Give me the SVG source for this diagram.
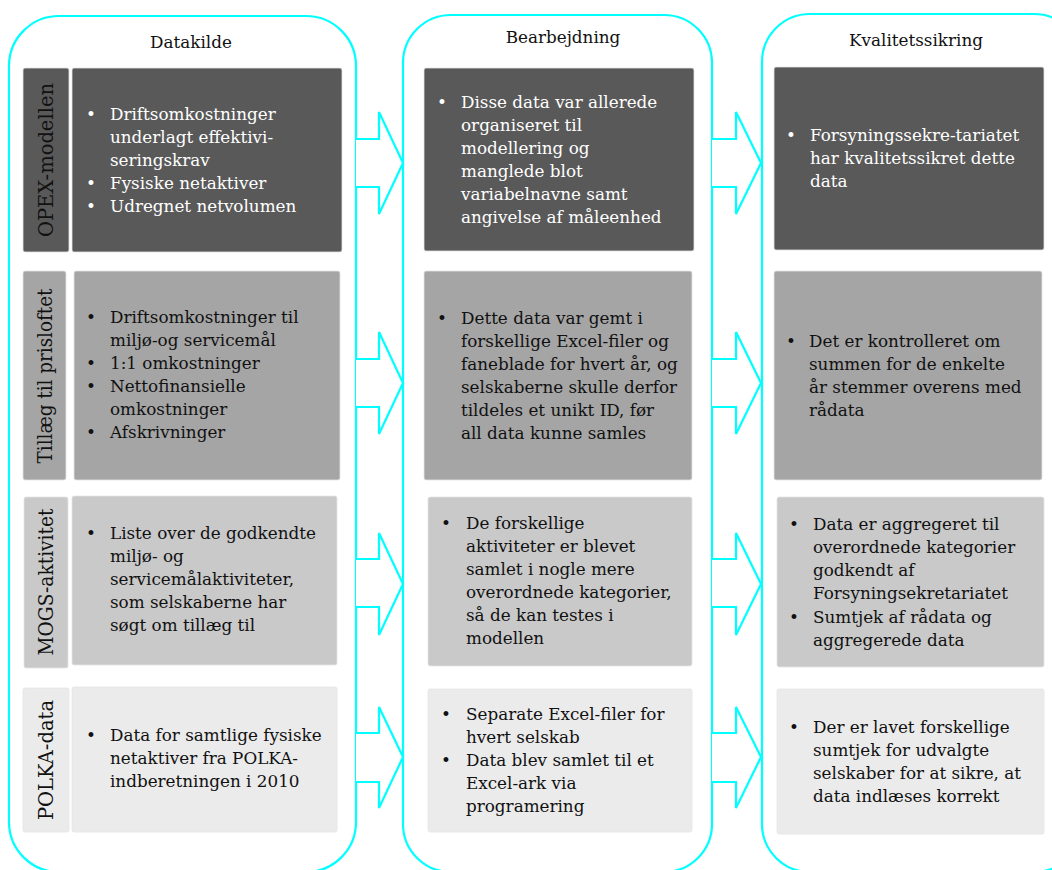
<svg xmlns="http://www.w3.org/2000/svg" width="1052" height="870" viewBox="0 0 1052 870">
<style>
.col{fill:none;stroke:#00FFFF;stroke-width:2.2}
.arr{fill:#fff;stroke:#00FFFF;stroke-width:2.2;stroke-linejoin:miter}
.title{font-family:"DejaVu Serif","Liberation Serif",serif;font-size:16.8px;fill:#111;text-anchor:middle}
.t{font-family:"DejaVu Serif","Liberation Serif",serif;font-size:16.8px;fill:#111}
.w{fill:#fff}
.lab{font-family:"DejaVu Serif","Liberation Serif",serif;font-size:20px;fill:#111;text-anchor:middle}
.r1{fill:#595959}.r2{fill:#A5A5A5}.r3{fill:#C9C9C9}.r4{fill:#EBEBEB}
.bx{stroke:#e4e4e4;stroke-width:0.8}
</style>
<g id="columns">
<rect id="col-datakilde" class="col" x="9" y="16" width="347" height="856" rx="50"/>
<rect id="col-bearbejdning" class="col" x="403" y="15" width="309" height="857" rx="48"/>
<rect id="col-kvalitet" class="col" x="762" y="14" width="320" height="858" rx="48"/>
<text class="title" x="191" y="48">Datakilde</text>
<text class="title" x="563" y="43">Bearbejdning</text>
<text class="title" x="916" y="46">Kvalitetssikring</text>
</g>
<g id="connectors">
<polyline class="arr" points="356,139 379,139 379,112 403,163 379,214 379,187 356,187"/>
<polyline class="arr" points="712,139 736,139 736,112 761,163 736,214 736,187 712,187"/>
<polyline class="arr" points="356,359 379,359 379,332 403,383 379,434 379,407 356,407"/>
<polyline class="arr" points="712,359 736,359 736,332 761,383 736,434 736,407 712,407"/>
<polyline class="arr" points="356,559 379,559 379,533 403,584 379,635 379,607 356,607"/>
<polyline class="arr" points="712,559 736,559 736,533 761,584 736,635 736,607 712,607"/>
<polyline class="arr" points="356,733 379,733 379,707 403,757 379,808 379,782 356,782"/>
<polyline class="arr" points="712,733 736,733 736,707 761,757 736,808 736,782 712,782"/>
</g>
<g id="row1-opex">
<rect class="r1 bx" x="23" y="68" width="46" height="184" rx="2"/>
<text class="lab w" transform="translate(53,160) rotate(-90)" textLength="154" lengthAdjust="spacingAndGlyphs">OPEX-modellen</text>
<rect class="r1 bx" x="72" y="68" width="270" height="184" rx="2"/>
<g class="t w">
<text x="86" y="120">•</text><text x="110" y="120">Driftsomkostninger</text>
<text x="110" y="143">underlagt effektivi-</text>
<text x="110" y="166">seringskrav</text>
<text x="86" y="189">•</text><text x="110" y="189">Fysiske netaktiver</text>
<text x="86" y="212">•</text><text x="110" y="212">Udregnet netvolumen</text>
</g>
<rect class="r1 bx" x="424" y="68" width="270" height="183" rx="2"/>
<g class="t w">
<text x="437" y="108">•</text><text x="461" y="108">Disse data var allerede</text>
<text x="461" y="131">organiseret til</text>
<text x="461" y="154">modellering og</text>
<text x="461" y="177">manglede blot</text>
<text x="461" y="200">variabelnavne samt</text>
<text x="461" y="223">angivelse af måleenhed</text>
</g>
<rect class="r1 bx" x="774" y="67" width="270" height="183" rx="2"/>
<g class="t w">
<text x="786" y="141">•</text><text x="810" y="141">Forsyningssekre-tariatet</text>
<text x="810" y="164">har kvalitetssikret dette</text>
<text x="810" y="187">data</text>
</g>
</g>
<g id="row2-tillaeg">
<rect class="r2 bx" x="23" y="271" width="43" height="209" rx="2"/>
<text class="lab" transform="translate(52,376) rotate(-90)" textLength="175" lengthAdjust="spacingAndGlyphs">Tillæg til prisloftet</text>
<rect class="r2 bx" x="74" y="271" width="266" height="209" rx="2"/>
<g class="t">
<text x="86" y="323">•</text><text x="110" y="323">Driftsomkostninger til</text>
<text x="110" y="346">miljø-og servicemål</text>
<text x="86" y="369">•</text><text x="110" y="369">1:1 omkostninger</text>
<text x="86" y="392">•</text><text x="110" y="392">Nettofinansielle</text>
<text x="110" y="415">omkostninger</text>
<text x="86" y="438">•</text><text x="110" y="438">Afskrivninger</text>
</g>
<rect class="r2 bx" x="424" y="271" width="268" height="209" rx="2"/>
<g class="t">
<text x="437" y="324">•</text><text x="461" y="324">Dette data var gemt i</text>
<text x="461" y="347">forskellige Excel-filer og</text>
<text x="461" y="370">faneblade for hvert år, og</text>
<text x="461" y="393">selskaberne skulle derfor</text>
<text x="461" y="416">tildeles et unikt ID, før</text>
<text x="461" y="439">all data kunne samles</text>
</g>
<rect class="r2 bx" x="774" y="271" width="268" height="209" rx="2"/>
<g class="t">
<text x="786" y="347">•</text><text x="809" y="347">Det er kontrolleret om</text>
<text x="809" y="370">summen for de enkelte</text>
<text x="809" y="393">år stemmer overens med</text>
<text x="809" y="416">rådata</text>
</g>
</g>
<g id="row3-mogs">
<rect class="r3 bx" x="24" y="497" width="44" height="171" rx="2"/>
<text class="lab" transform="translate(53,582) rotate(-90)" textLength="147" lengthAdjust="spacingAndGlyphs">MOGS-aktivitet</text>
<rect class="r3 bx" x="72" y="496" width="265" height="169" rx="2"/>
<g class="t">
<text x="86" y="539">•</text><text x="110" y="539">Liste over de godkendte</text>
<text x="110" y="562">miljø- og</text>
<text x="110" y="585">servicemålaktiviteter,</text>
<text x="110" y="608">som selskaberne har</text>
<text x="110" y="631">søgt om tillæg til</text>
</g>
<rect class="r3 bx" x="428" y="497" width="264" height="169" rx="2"/>
<g class="t">
<text x="441" y="529">•</text><text x="466" y="529">De forskellige</text>
<text x="466" y="552">aktiviteter er blevet</text>
<text x="466" y="575">samlet i nogle mere</text>
<text x="466" y="598">overordnede kategorier,</text>
<text x="466" y="621">så de kan testes i</text>
<text x="466" y="644">modellen</text>
</g>
<rect class="r3 bx" x="777" y="497" width="267" height="170" rx="2"/>
<g class="t">
<text x="789" y="530">•</text><text x="813" y="530">Data er aggregeret til</text>
<text x="813" y="553">overordnede kategorier</text>
<text x="813" y="576">godkendt af</text>
<text x="813" y="599">Forsyningsekretariatet</text>
<text x="789" y="623">•</text><text x="813" y="623">Sumtjek af rådata og</text>
<text x="813" y="646">aggregerede data</text>
</g>
</g>
<g id="row4-polka">
<rect class="r4 bx" x="23" y="688" width="46" height="144" rx="2"/>
<text class="lab" transform="translate(53,760) rotate(-90)" textLength="120" lengthAdjust="spacingAndGlyphs">POLKA-data</text>
<rect class="r4 bx" x="72" y="687" width="265" height="145" rx="2"/>
<g class="t">
<text x="86" y="741">•</text><text x="110" y="741">Data for samtlige fysiske</text>
<text x="110" y="764">netaktiver fra POLKA-</text>
<text x="110" y="787">indberetningen i 2010</text>
</g>
<rect class="r4 bx" x="428" y="689" width="264" height="143" rx="2"/>
<g class="t">
<text x="441" y="720">•</text><text x="466" y="720">Separate Excel-filer for</text>
<text x="466" y="743">hvert selskab</text>
<text x="441" y="766">•</text><text x="466" y="766">Data blev samlet til et</text>
<text x="466" y="789">Excel-ark via</text>
<text x="466" y="812">programering</text>
</g>
<rect class="r4 bx" x="777" y="689" width="267" height="145" rx="2"/>
<g class="t">
<text x="789" y="733">•</text><text x="813" y="733">Der er lavet forskellige</text>
<text x="813" y="756">sumtjek for udvalgte</text>
<text x="813" y="779">selskaber for at sikre, at</text>
<text x="813" y="802">data indlæses korrekt</text>
</g>
</g>
</svg>
